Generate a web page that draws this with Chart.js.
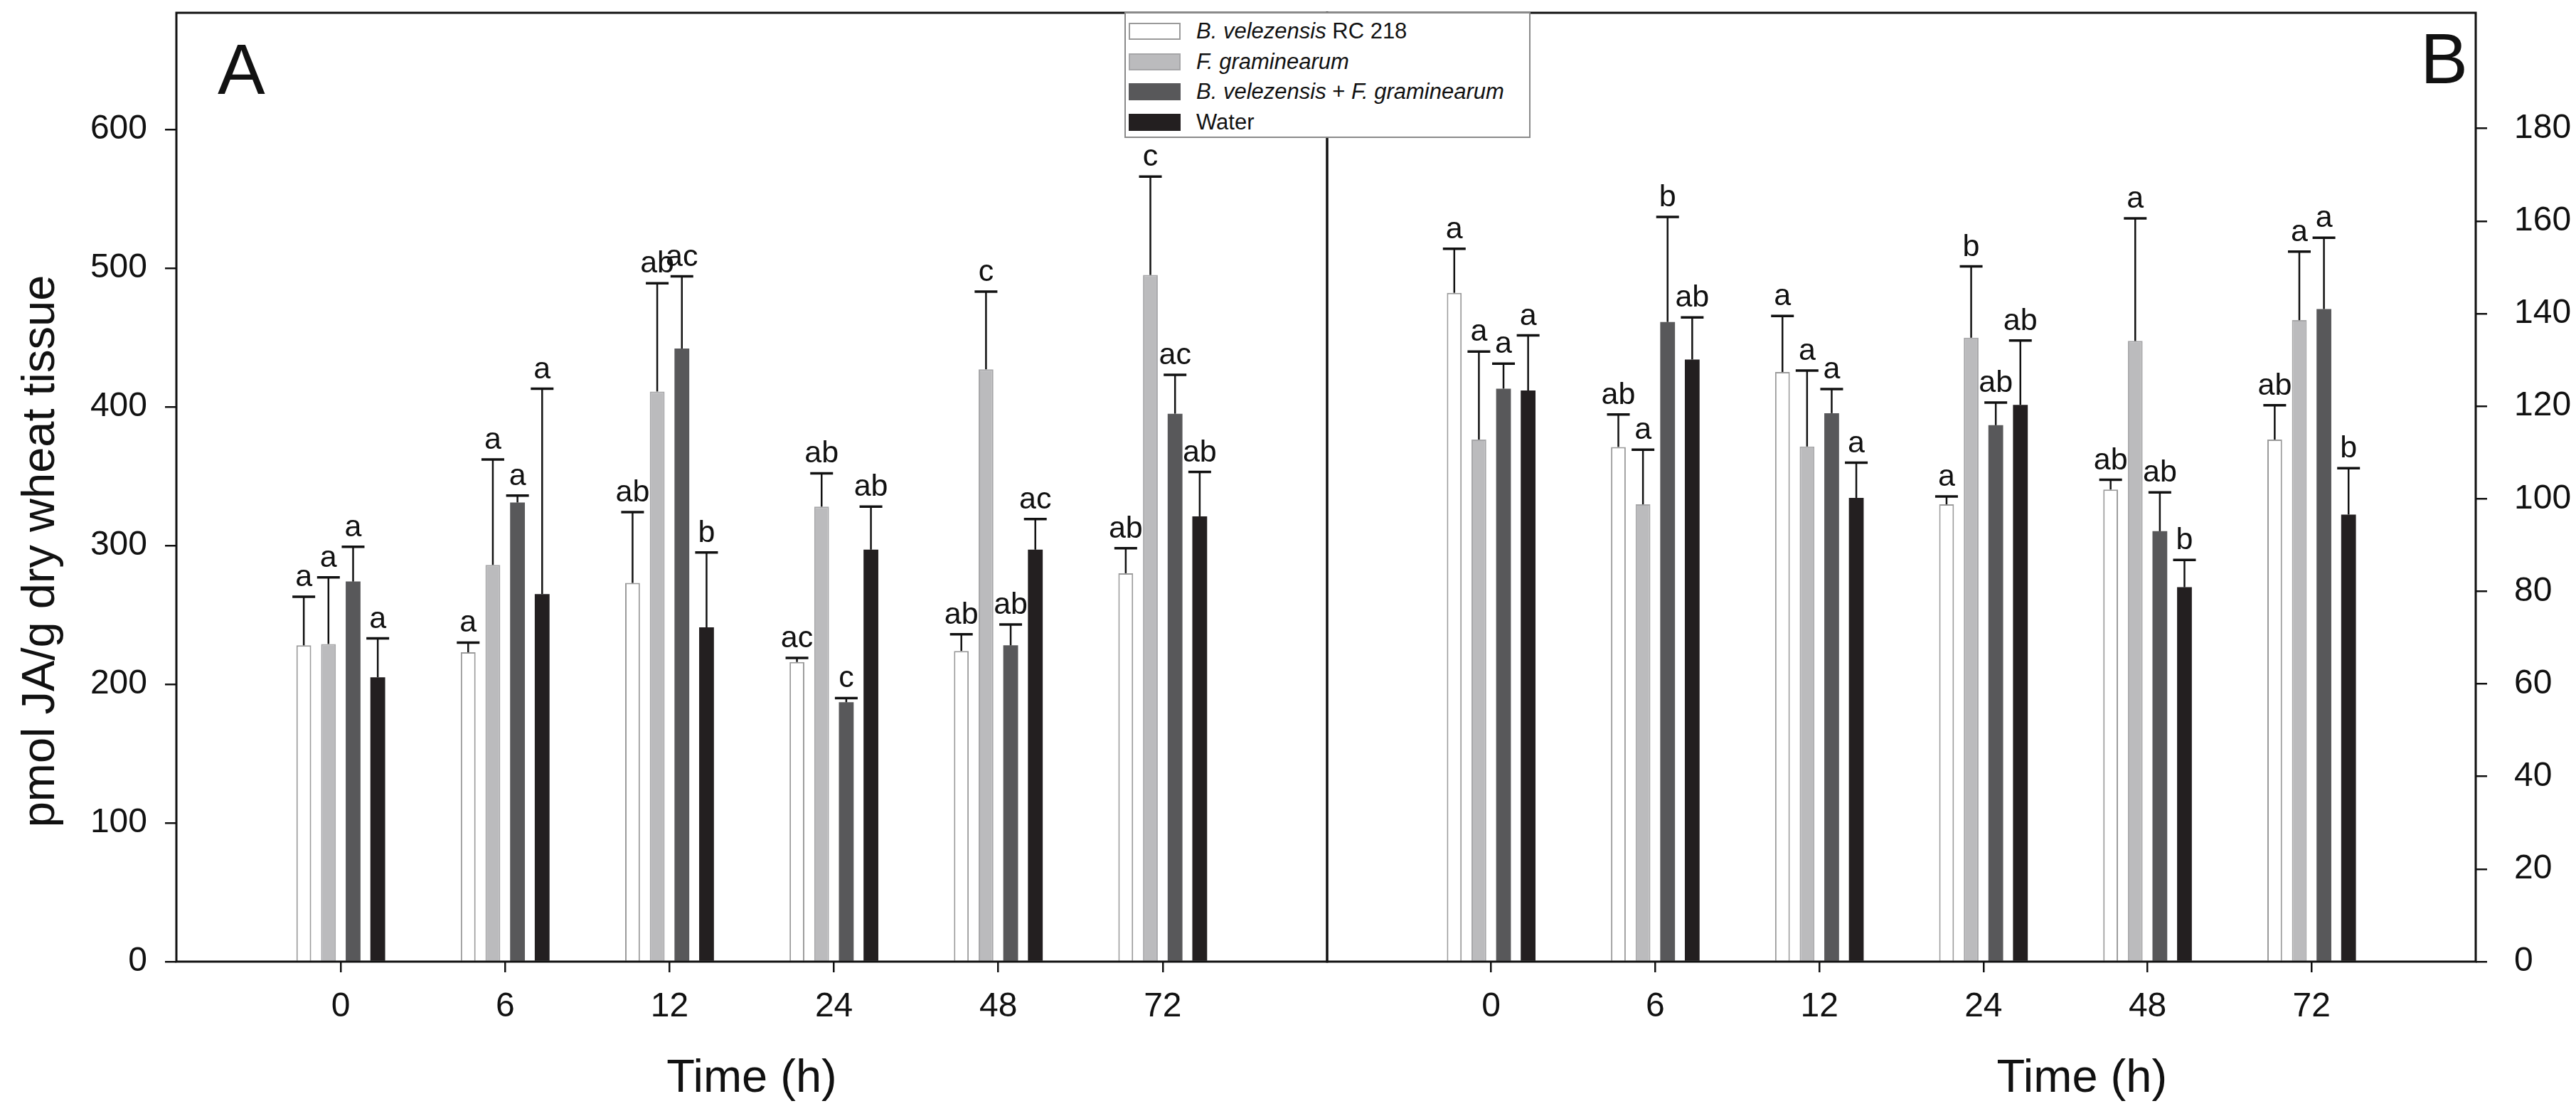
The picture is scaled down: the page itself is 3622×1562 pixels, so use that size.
<!DOCTYPE html>
<html>
<head>
<meta charset="utf-8">
<script src="https://cdn.jsdelivr.net/npm/chart.js@4.4.1/dist/chart.umd.min.js"></script>
<style>
  html, body { margin: 0; padding: 0; background: #fff; }
  #wrap { position: relative; width: 3622px; height: 1562px; overflow: hidden; }
  #wrap canvas { position: absolute; top: 0; }
  #chartA { left: 0; }
  #chartB { left: 1852px; }
  .legend {
    position: absolute; left: 1581px; top: 17px; width: 571px; height: 177px;
    box-sizing: border-box; border: 2px solid #8a8a8a; background: #fff;
    padding-top: 4px; font: 31px 'Liberation Sans', Arial, sans-serif; color: #111;
  }
  .legend .row { display: flex; align-items: center; height: 42.5px; white-space: nowrap; }
  .legend .sw { width: 73px; height: 24px; margin: 0 22px 0 4px; box-sizing: border-box; }
</style>
</head>
<body>
<div id="wrap">
  <canvas id="chartA" width="1880" height="1562"></canvas>
  <canvas id="chartB" width="1770" height="1562"></canvas>
  <div class="legend">
    <div class="row"><span class="sw" style="background:#fff;border:2px solid #9a9a9a"></span><span><i>B. velezensis</i> RC 218</span></div>
    <div class="row"><span class="sw" style="background:#bbbbbd;border:2px solid #a6a6a8"></span><span><i>F. graminearum</i></span></div>
    <div class="row"><span class="sw" style="background:#58585a"></span><span><i>B. velezensis</i> + <i>F. graminearum</i></span></div>
    <div class="row"><span class="sw" style="background:#231f20"></span><span>Water</span></div>
  </div>
</div>
<script>
// sampling times (h)
const times = ['0', '6', '12', '24', '48', '72'];

// panel A: pmol JA/g, means, upper error (SE) and letters
const aBvel = [228, 223, 273, 216, 224, 280];
const aFgra = [229, 286, 411, 328, 427, 495];
const aComb = [274, 331, 442, 187, 228, 395];
const aWater = [205, 265, 241, 297, 297, 321];
const aBvelErr = [35, 7, 51, 3, 12, 18];
const aFgraErr = [48, 76, 78, 24, 56, 71];
const aCombErr = [25, 5, 52, 3, 15, 28];
const aWaterErr = [28, 148, 54, 31, 22, 32];
const aBvelLet = ['a', 'a', 'ab', 'ac', 'ab', 'ab'];
const aFgraLet = ['a', 'a', 'ab', 'ab', 'c', 'c'];
const aCombLet = ['a', 'a', 'ac', 'c', 'ab', 'ac'];
const aWaterLet = ['a', 'a', 'b', 'ab', 'ac', 'ab'];

// panel B
const bBvel = [144.5, 111.2, 127.4, 98.8, 102, 112.8];
const bFgra = [112.8, 98.8, 111.3, 134.8, 134.1, 138.6];
const bComb = [123.8, 138.2, 118.5, 115.9, 93, 141];
const bWater = [123.4, 130.1, 100.2, 120.3, 80.9, 96.6];
const bBvelErr = [9.5, 7, 12.1, 1.7, 2.1, 7.4];
const bFgraErr = [19, 11.8, 16.4, 15.4, 26.5, 14.8];
const bCombErr = [5.4, 22.7, 5.2, 4.9, 8.4, 15.4];
const bWaterErr = [11.9, 9.1, 7.6, 13.9, 5.9, 10];
const bBvelLet = ['a', 'ab', 'a', 'a', 'ab', 'ab'];
const bFgraLet = ['a', 'a', 'a', 'b', 'a', 'a'];
const bCombLet = ['a', 'b', 'a', 'ab', 'ab', 'a'];
const bWaterLet = ['a', 'ab', 'a', 'ab', 'b', 'b'];

const seriesNames = ['B. velezensis RC 218', 'F. graminearum', 'B. velezensis + F. graminearum', 'Water'];
const seriesStyle = [
  { bg: '#ffffff', border: '#9a9a9a', bw: 2 },
  { bg: '#bbbbbd', border: '#a6a6a8', bw: 2 },
  { bg: '#58585a', border: '#58585a', bw: 0 },
  { bg: '#231f20', border: '#231f20', bw: 0 }
];

const FONT = "'Liberation Sans', Arial, sans-serif";
Chart.defaults.font.family = FONT;
Chart.defaults.color = '#111';

const makeDatasets = (means, errs, lets) => means.map((m, k) => ({
  label: seriesNames[k],
  data: m.map((v, i) => ({ x: i, y: v })),
  errors: errs[k],
  letters: lets[k],
  backgroundColor: seriesStyle[k].bg,
  borderColor: seriesStyle[k].border,
  borderWidth: seriesStyle[k].bw,
  borderSkipped: 'bottom',
  categoryPercentage: 0.6,
  barPercentage: 0.6
}));

// error bars (upper only) with significance letters
const errorBars = {
  id: 'errorBars',
  afterDatasetsDraw(chart) {
    const ctx = chart.ctx;
    const y = chart.scales.y;
    ctx.save();
    ctx.strokeStyle = '#111';
    ctx.fillStyle = '#111';
    ctx.font = '43px ' + FONT;
    ctx.textAlign = 'center';
    ctx.textBaseline = 'alphabetic';
    chart.data.datasets.forEach((ds, i) => {
      chart.getDatasetMeta(i).data.forEach((bar, j) => {
        const top = y.getPixelForValue(ds.data[j].y + ds.errors[j]);
        ctx.lineWidth = 2.5;
        ctx.beginPath();
        ctx.moveTo(bar.x, bar.y);
        ctx.lineTo(bar.x, top);
        ctx.stroke();
        ctx.lineWidth = 3.5;
        ctx.beginPath();
        ctx.moveTo(bar.x - 16, top);
        ctx.lineTo(bar.x + 16, top);
        ctx.stroke();
        ctx.fillText(ds.letters[j], bar.x, top - 15);
      });
    });
    ctx.restore();
  }
};

// frame, panel letter and axis titles
const decor = {
  id: 'decor',
  afterDraw(chart, args, o) {
    const ctx = chart.ctx;
    const a = chart.chartArea;
    ctx.save();
    ctx.strokeStyle = '#111';
    ctx.lineWidth = 3;
    ctx.strokeRect(a.left, a.top, a.right - a.left, a.bottom - a.top);
    ctx.fillStyle = '#111';
    ctx.font = '100px ' + FONT;
    ctx.textAlign = o.letterAlign;
    ctx.fillText(o.letter, o.letterX, o.letterY);
    ctx.font = '65px ' + FONT;
    ctx.textAlign = 'center';
    ctx.fillText('Time (h)', chart.scales.x.getPixelForValue(o.titleAt), 1535);
    if (o.yTitle) {
      ctx.translate(76, 775);
      ctx.rotate(-Math.PI / 2);
      ctx.fillText(o.yTitle, 0, 0);
    }
    ctx.restore();
  }
};

const noPad = s => { s.paddingTop = 0; s.paddingBottom = 0; s.paddingLeft = 0; s.paddingRight = 0; };

const makeOptions = (side, yMax, yTop, yStep, padL, padR, axisW, decorOpts) => ({
  responsive: false,
  animation: false,
  layout: { padding: { top: 18, left: padL, right: padR, bottom: 0 } },
  plugins: { legend: { display: false }, tooltip: { enabled: false }, decor: decorOpts },
  scales: {
    x: {
      type: 'linear',
      min: -1,
      max: 6,
      offset: false,
      afterBuildTicks: s => { s.ticks = s.ticks.filter(t => t.value >= 0 && t.value <= 5); },
      afterFit: s => { noPad(s); s.height = 210; },
      grid: { offset: false, drawOnChartArea: false, drawTicks: true, tickLength: 15, color: '#111', lineWidth: 2.5 },
      border: { display: false },
      ticks: { stepSize: 1, padding: 20, maxRotation: 0, autoSkip: false, font: { size: 48 }, color: '#111',
        callback: v => times[v] }
    },
    y: {
      position: side,
      min: 0,
      max: yMax,
      afterBuildTicks: s => { s.ticks = s.ticks.filter(t => t.value <= yTop); },
      afterFit: s => { noPad(s); s.width = axisW; },
      grid: { drawOnChartArea: false, drawTicks: true, tickLength: 16, color: '#111', lineWidth: 2.5 },
      border: { display: false },
      ticks: { stepSize: yStep, includeBounds: false, padding: side === 'left' ? 25 : 38, font: { size: 48 }, color: '#111' }
    }
  }
});

new Chart(document.getElementById('chartA'), {
  type: 'bar',
  data: { datasets: makeDatasets([aBvel, aFgra, aComb, aWater], [aBvelErr, aFgraErr, aCombErr, aWaterErr], [aBvelLet, aFgraLet, aCombLet, aWaterLet]) },
  options: makeOptions('left', 684, 600, 100, 0, 14, 248,
    { letter: 'A', letterAlign: 'left', letterX: 306, letterY: 132, titleAt: 2.5, yTitle: 'pmol JA/g dry wheat tissue' }),
  plugins: [errorBars, decor]
});

new Chart(document.getElementById('chartB'), {
  type: 'bar',
  data: { datasets: makeDatasets([bBvel, bFgra, bComb, bWater], [bBvelErr, bFgraErr, bCombErr, bWaterErr], [bBvelLet, bFgraLet, bCombLet, bWaterLet]) },
  options: makeOptions('right', 205, 180, 20, 14, 0, 141,
    { letter: 'B', letterAlign: 'right', letterX: 3470 - 1852, letterY: 117, titleAt: 3.6, yTitle: null }),
  plugins: [errorBars, decor]
});
</script>
</body>
</html>
